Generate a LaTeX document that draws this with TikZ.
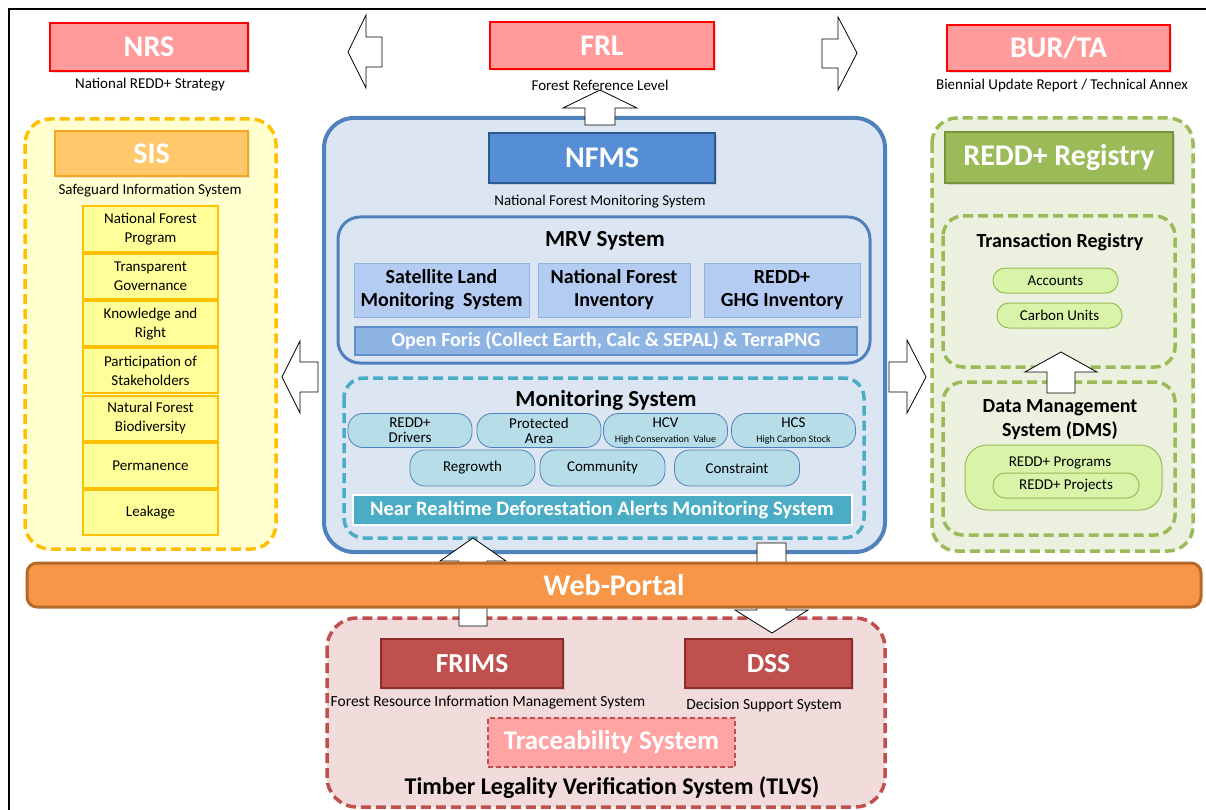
\documentclass[tikz,border=0pt]{standalone}
\usepackage{fontspec}
\setmainfont{Carlito}
\usetikzlibrary{shadows}

% colours of the diagram
\definecolor{topFill}{HTML}{FF9B9B}
\definecolor{topDraw}{HTML}{FF0000}
\definecolor{sisBack}{HTML}{FFFFCF}
\definecolor{sisDash}{HTML}{FFC000}
\definecolor{sisHead}{HTML}{FFC86A}
\definecolor{sisHeadDraw}{HTML}{F6A623}
\definecolor{sisItem}{HTML}{FFFF99}
\definecolor{nfmsBack}{HTML}{DCE6F2}
\definecolor{nfmsDraw}{HTML}{4F81BD}
\definecolor{nfmsHead}{HTML}{558ED5}
\definecolor{nfmsHeadDraw}{HTML}{2C5A8F}
\definecolor{mrvBox}{HTML}{B5CCF2}
\definecolor{mrvBoxDraw}{HTML}{8EB4E3}
\definecolor{forisFill}{HTML}{8EB4E3}
\definecolor{forisDraw}{HTML}{5F8FCF}
\definecolor{monDash}{HTML}{4BACC6}
\definecolor{pillFill}{HTML}{B7DDE8}
\definecolor{regBack}{HTML}{EBF1DE}
\definecolor{regDash}{HTML}{9BBB59}
\definecolor{regHeadDraw}{HTML}{77933C}
\definecolor{greenPill}{HTML}{D7F4A8}
\definecolor{portalFill}{HTML}{F79646}
\definecolor{portalDraw}{HTML}{B56A2A}
\definecolor{tlvsBack}{HTML}{F2DCDB}
\definecolor{tlvsDash}{HTML}{C0504D}
\definecolor{frimsDraw}{HTML}{8C2D2B}
\definecolor{traceFill}{HTML}{FFA3A3}

\tikzset{
  titlebox/.style={rectangle, inner sep=0pt, text=white, font=\fontsize{30}{34}\selectfont\bfseries},
  topbox/.style={titlebox, fill=topFill, draw=topDraw, line width=2.5,
    drop shadow={shadow xshift=2pt, shadow yshift=-2pt, opacity=0.25}},
  caption/.style={inner sep=0pt, font=\fontsize{15}{17}\selectfont},
  heading/.style={inner sep=0pt, align=center, font=\fontsize{#1}{#1}\selectfont\bfseries},
  sisitem/.style={rectangle, fill=sisItem, draw=sisDash, line width=2, inner sep=0pt,
    minimum width=135, minimum height=45, align=center, font=\fontsize{15}{19}\selectfont},
  mrvbox/.style={rectangle, fill=mrvBox, draw=mrvBoxDraw, line width=1, inner sep=0pt,
    minimum height=54, align=center, font=\fontsize{20}{23}\selectfont\bfseries},
  pill/.style={rectangle, rounded corners=15, fill=pillFill, draw=nfmsDraw, line width=0.8,
    inner sep=0pt, minimum width=124, minimum height=34, align=center, font=\fontsize{15}{15}\selectfont},
  greenpill/.style={rectangle, rounded corners=12, fill=greenPill, draw=regDash, line width=1,
    inner sep=0pt, minimum width=125, minimum height=25, font=\fontsize{15}{17}\selectfont},
  blockarrow/.style={fill=white, draw=black, line width=0.8, line join=miter},
  dashbox/.style={line width=3.5, dash pattern=on 10pt off 5pt, rounded corners=#1}
}

\begin{document}
\begin{tikzpicture}[x=1pt, y=-1pt]
  \useasboundingbox (0,0) rectangle (1206,810);

  % Frame on the left and on top
  \draw[line width=2.5] (9,810) -- (9,9) -- (1206,9);

  % Top row of reports
  \node[topbox, minimum width=198, minimum height=48] (nrs) at (149,47) {NRS};
  \node[caption] (nrscap) at (150,85) {National REDD+ Strategy};
  \node[topbox, minimum width=224, minimum height=47] (frl) at (602,45.5) {FRL};
  \node[caption] (frlcap) at (600,85) {Forest Reference Level};
  \node[topbox, minimum width=223, minimum height=46] (burta) at (1058.5,48) {BUR/TA};
  \node[caption] (burtacap) at (1062,86) {Biennial Update Report / Technical Annex};

  % Safeguard Information System on the left
  \draw[dashbox=25, draw=sisDash, fill=sisBack] (25,119) rectangle (276,549);
  \node[titlebox, fill=sisHead, draw=sisHeadDraw, line width=2, minimum width=193, minimum height=45,
    drop shadow={shadow xshift=2pt, shadow yshift=-2pt, opacity=0.2}] (sis) at (151.5,153.5) {SIS};
  \node[caption] (siscap) at (150,191) {Safeguard Information System};
  \foreach \i/\txt in {1/National Forest\\Program, 2/Transparent\\Governance, 3/Knowledge and\\Right,
      4/Participation of\\Stakeholders, 5/Natural Forest\\Biodiversity, 6/Permanence, 7/Leakage}
    \node[sisitem] (item\i) at (150.5, 206+47.3*\i-47.3+23) {\txt};

  % National Forest Monitoring System in the middle
  \draw[line width=4, draw=nfmsDraw, fill=nfmsBack, rounded corners=30] (324,118) rectangle (885,552);
  \node[titlebox, fill=nfmsHead, draw=nfmsHeadDraw, line width=2, minimum width=226, minimum height=50,
    drop shadow={shadow xshift=2pt, shadow yshift=-2pt, opacity=0.25}] (nfms) at (602,158) {NFMS};
  \node[caption] (nfmscap) at (600,202) {National Forest Monitoring System};

  \begin{scope}
    % MRV part
    \draw[line width=3, draw=nfmsDraw, fill=nfmsBack, rounded corners=22] (338,217) rectangle (870,363);
    \node[heading=23] (mrv) at (605,241) {MRV System};
    \node[mrvbox, minimum width=175] (slms) at (441.5,290) {Satellite Land\\Monitoring\ \ System};
    \node[mrvbox, minimum width=152] (nfi) at (614,290) {National Forest\\Inventory};
    \node[mrvbox, minimum width=156] (ghg) at (782,290) {REDD+\\GHG Inventory};
    \node[rectangle, fill=forisFill, draw=forisDraw, line width=1.5, inner sep=0pt, minimum width=502,
      minimum height=28, text=white, font=\fontsize{20}{22}\selectfont\bfseries] (foris) at (606,341)
      {Open Foris (Collect Earth, Calc \& SEPAL) \& TerraPNG};
  \end{scope}

  \begin{scope}
    % Monitoring part
    \draw[dashbox=20, draw=monDash, fill=nfmsBack] (344,378) rectangle (864,538);
    \node[heading=23] (mon) at (606,400) {Monitoring System};
    \node[pill] (drivers) at (410,430.5) {REDD+\\Drivers};
    \node[pill] (protected) at (539,430.5) {Protected\\Area};
    \node[pill] (hcv) at (665.5,430.5) {HCV\\{\fontsize{10}{11}\selectfont High Conservation\ \ Value}};
    \node[pill] (hcs) at (793.5,430.5) {HCS\\{\fontsize{10}{11}\selectfont High Carbon Stock}};
    \node[pill, minimum width=125, minimum height=36] (regrowth) at (472.5,468) {Regrowth};
    \node[pill, minimum width=125, minimum height=36] (community) at (602.5,468) {Community};
    \node[pill, minimum width=125, minimum height=36] (constraint) at (737,468) {Constraint};
    \node[rectangle, fill=monDash, draw=white, line width=2, inner sep=0pt, minimum width=499,
      minimum height=30, text=white, font=\fontsize{20.5}{22}\selectfont\bfseries] (alerts) at (602,510)
      {Near Realtime Deforestation Alerts Monitoring System};
  \end{scope}

  % REDD+ Registry on the right
  \draw[dashbox=25, draw=regDash, fill=regBack] (932,118) rectangle (1193,551);
  \node[titlebox, fill=regDash, draw=regHeadDraw, line width=2, minimum width=228, minimum height=51,
    drop shadow={shadow xshift=2pt, shadow yshift=-2pt, opacity=0.25}] (registry) at (1059,157.5) {REDD+ Registry};

  \begin{scope}
    % Transaction registry
    \draw[dashbox=20, draw=regDash, fill=regBack] (943,216) rectangle (1175,367);
    \node[heading=20] (trans) at (1060,242) {Transaction Registry};
    \node[greenpill] (accounts) at (1055.5,280.5) {Accounts};
    \node[greenpill] (carbon) at (1059.5,315.5) {Carbon Units};
  \end{scope}

  \begin{scope}
    % Data management system
    \draw[dashbox=20, draw=regDash, fill=regBack] (943,382) rectangle (1175,535);
    \node[heading=20, font=\fontsize{20}{24}\selectfont\bfseries] (dms) at (1060,420) {Data Management\\System (DMS)};
    \node[greenpill, rounded corners=22, minimum width=197, minimum height=65] (programs) at (1063.5,477.5) {};
    \node[caption] (progtxt) at (1060,463) {REDD+ Programs};
    \node[greenpill, minimum width=146] (projects) at (1066,485.5) {REDD+ Projects};
  \end{scope}

  % Timber Legality Verification System at the bottom
  \draw[dashbox=30, draw=tlvsDash, fill=tlvsBack] (327,618) rectangle (885,807);
  \node[titlebox, fill=tlvsDash, draw=frimsDraw, line width=2, minimum width=182, minimum height=49,
    font=\fontsize{27.5}{30}\selectfont\bfseries,
    drop shadow={shadow xshift=2pt, shadow yshift=-2pt, opacity=0.25}] (frims) at (472,663.5) {FRIMS};
  \node[caption, font=\fontsize{15.5}{17}\selectfont] (frimscap) at (488,702) {Forest Resource Information Management System};
  \node[titlebox, fill=tlvsDash, draw=frimsDraw, line width=2, minimum width=167, minimum height=49,
    font=\fontsize{27.5}{30}\selectfont\bfseries,
    drop shadow={shadow xshift=2pt, shadow yshift=-2pt, opacity=0.25}] (dss) at (768.5,663.5) {DSS};
  \node[caption, font=\fontsize{15.5}{17}\selectfont] (dsscap) at (764,705) {Decision Support System};
  \node[titlebox, fill=traceFill, draw=tlvsDash, line width=2, dash pattern=on 5pt off 3pt,
    minimum width=247, minimum height=49, font=\fontsize{27}{30}\selectfont\bfseries] (trace) at (611.5,742.5)
    {Traceability System};
  \node[heading=24] (tlvs) at (612,788) {Timber Legality Verification System (TLVS)};

  % Block arrows
  \draw[blockarrow] (348,52) -- (366,15) -- (366,37) -- (382,37) -- (382,67) -- (366,67) -- (366,88) -- cycle;
  \draw[blockarrow] (857,53) -- (838,17) -- (838,39) -- (822,39) -- (822,68) -- (838,68) -- (838,90) -- cycle;
  \draw[blockarrow] (600,90) -- (637,108) -- (615,108) -- (615,125) -- (585,125) -- (585,108) -- (563,108) -- cycle;
  \draw[blockarrow] (282,377) -- (300,341) -- (300,362) -- (318,362) -- (318,392) -- (300,392) -- (300,413) -- cycle;
  \draw[blockarrow] (926,377) -- (907,340) -- (907,362) -- (889,362) -- (889,392) -- (907,392) -- (907,413) -- cycle;
  \draw[blockarrow] (1061,352) -- (1097,372) -- (1075,372) -- (1075,393) -- (1047,393) -- (1047,372) -- (1025,372) -- cycle;
  \draw[blockarrow] (473,538) -- (506,561) -- (487,561) -- (487,626) -- (459,626) -- (459,561) -- (440,561) -- cycle;
  \draw[blockarrow] (772,633) -- (808,610) -- (786,610) -- (786,543) -- (757,543) -- (757,610) -- (735,610) -- cycle;

  % Web-Portal bar across the picture
  \node[rectangle, rounded corners=10, fill=portalFill, draw=portalDraw, line width=3, inner sep=0pt,
    minimum width=1174, minimum height=44, text=white, font=\fontsize{30}{34}\selectfont\bfseries] (portal)
    at (614,585) {Web-Portal};
\end{tikzpicture}
\end{document}
